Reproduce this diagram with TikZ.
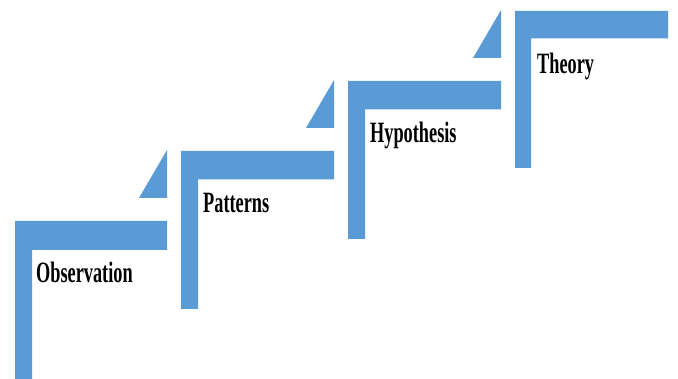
\documentclass[tikz,border=0pt]{standalone}
\usepackage{fontspec}
\newfontfamily\lblfont{Liberation Serif}[FakeStretch=0.62]
\definecolor{stepblue}{HTML}{5B9BD5}
\begin{document}
\begin{tikzpicture}[x=1pt,y=-1pt,
  stepshape/.style={fill=stepblue,draw=none},
  steplabel/.style={anchor=base west,inner sep=0pt,font=\lblfont\bfseries\fontsize{29.5}{30}\selectfont}]
\useasboundingbox (0,0) rectangle (678,379);
% step 1
\fill[stepshape] (15,221) -- (167,221) -- (167,250) -- (32,250) -- (32,379) -- (15,379) -- cycle;
\fill[stepshape] (139,198) -- (167,198) -- (167,150) -- cycle;
% step 2
\fill[stepshape] (181,151) -- (334,151) -- (334,179.5) -- (198,179.5) -- (198,309) -- (181,309) -- cycle;
\fill[stepshape] (306,128) -- (334,128) -- (334,80) -- cycle;
% step 3
\fill[stepshape] (348,81) -- (501,81) -- (501,109.5) -- (365,109.5) -- (365,239) -- (348,239) -- cycle;
\fill[stepshape] (473,58) -- (501,58) -- (501,10) -- cycle;
% step 4
\fill[stepshape] (515,11) -- (668,11) -- (668,38.5) -- (531,38.5) -- (531,168) -- (515,168) -- cycle;
% labels
\node[steplabel] (obs) at (36,283) {Observation};
\node[steplabel] (pat) at (203,213) {Patterns};
\node[steplabel] (hyp) at (370,142.5) {Hypothesis};
\node[steplabel] (the) at (537,74) {Theory};
\end{tikzpicture}
\end{document}
